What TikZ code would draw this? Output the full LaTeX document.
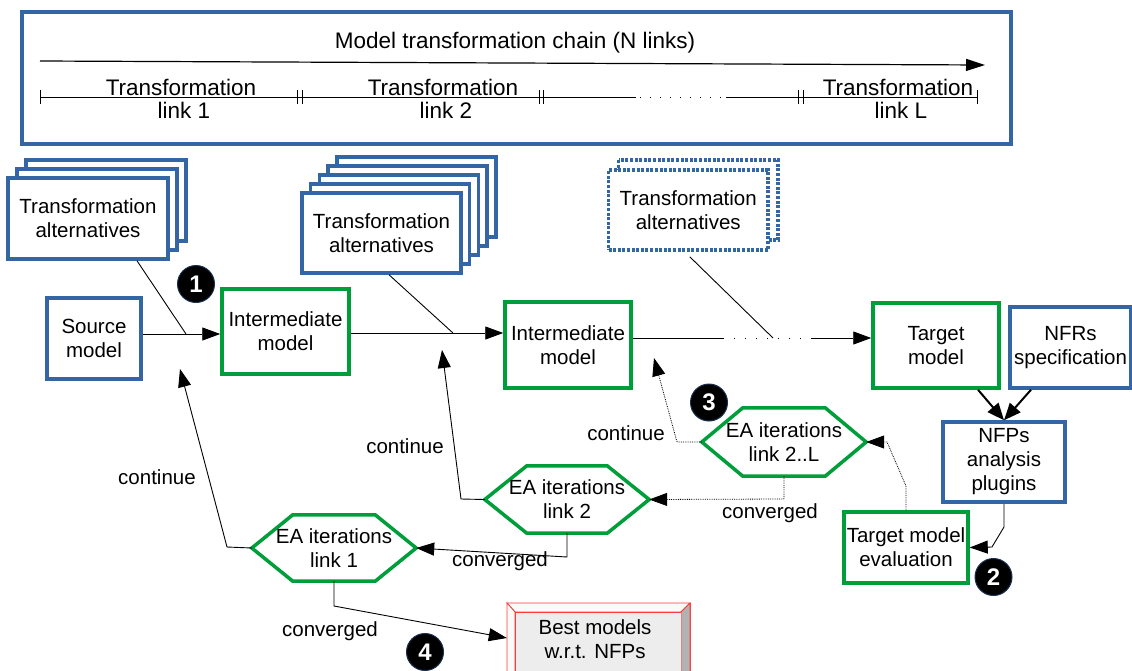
\documentclass[tikz,border=0pt]{standalone}
\usepackage{fontspec}
\setmainfont{Liberation Sans}
\usetikzlibrary{arrows.meta,calc,backgrounds}
\definecolor{myblue}{RGB}{52,101,164}
\definecolor{mygreen}{RGB}{0,158,58}
\definecolor{myred}{RGB}{255,60,60}
\newcommand\hexdraw[2]{\draw[hexline] (#1.west) -- ([xshift=#2]#1.north west) -- ([xshift=-#2]#1.north east) -- (#1.east) -- ([xshift=-#2]#1.south east) -- ([xshift=#2]#1.south west) -- cycle;}
\begin{document}
\begin{tikzpicture}[x=1pt,y=-1pt,font=\fontsize{20.5}{24}\selectfont,
  bluebox/.style={draw=myblue,line width=3.5,fill=white,align=center,inner sep=0},
  greenbox/.style={draw=mygreen,line width=3.5,fill=white,align=center,inner sep=0},
  backbox/.style={draw=myblue,line width=3.5,fill=white},
  dotbox/.style={draw=myblue,line width=3.5,fill=white,dash pattern=on 3pt off 1.6pt},
  hexnode/.style={align=center,inner sep=0},
  hexline/.style={draw=mygreen,line width=3.5,line join=miter},
  conn/.style={line width=0.9},
  arr/.style={conn,-{Triangle[length=18pt,width=13pt]}},
  dconn/.style={line width=0.8,densely dotted},
  darr/.style={dconn,-{Triangle[length=18pt,width=13pt]}},
  thickarr/.style={line width=2,-{Triangle[length=17pt,width=14pt]}},
  num/.style={circle,fill=black,draw=myblue!50!black,line width=1,minimum size=37,inner sep=0,text=white,font=\fontsize{24}{24}\selectfont\bfseries},
  lbl/.style={inner sep=0},
  toplbl/.style={inner sep=0,anchor=base,font=\fontsize{22.5}{25}\selectfont}]
\useasboundingbox (0,0) rectangle (1132,670);

% top chain box
\node[draw=myblue,line width=4,minimum width=989,minimum height=132,inner sep=0] (chain) at (516.5,78) {};
\node[lbl,font=\fontsize{22.5}{25}\selectfont] (title) at (515,43) {Model transformation chain (N links)};
\coordinate (ca) at (40,61);
\coordinate (cb) at (985,65);
\draw[line width=1.2,-{Triangle[length=19pt,width=12pt]}] (ca) -- (cb);
\draw[line width=1] (40,97) -- (636,97);
\draw[line width=1,dash pattern=on 1pt off 9pt] (640,97) -- (722,97);
\draw[line width=1] (726,97) -- (977,97);
\foreach \t in {40,297.5,302,539,543,798.5,803,977} \draw[line width=1] (\t,90) -- (\t,104);
\node[toplbl] (l1a) at (181,95) {Transformation};
\node[toplbl] (l1b) at (184,118) {link 1};
\node[toplbl] (l2a) at (443,95) {Transformation};
\node[toplbl] (l2b) at (446,118) {link 2};
\node[toplbl] (lLa) at (898,95) {Transformation};
\node[toplbl] (lLb) at (901,118) {link L};

% stack 1
\foreach \k in {2,1} \draw[backbox] (8+9*\k,178-9*\k) rectangle (168+9*\k,259-9*\k);
\node[bluebox,minimum width=160,minimum height=81] (ta1) at (88,218.5) {Transformation\\alternatives};
% stack 2
\foreach \k in {4,3,2,1} \draw[backbox] (302+8.7*\k,193-9*\k) rectangle (461+8.7*\k,273-9*\k);
\node[bluebox,minimum width=159,minimum height=80] (ta2) at (381.5,233) {Transformation\\alternatives};
% stack 3
\draw[dotbox] (618.5,160) rectangle (778,240);
\node[dotbox,align=center,inner sep=0,minimum width=159.5,minimum height=80] (ta3) at (688.25,210) {Transformation\\alternatives};

% main boxes
\node[bluebox,minimum width=94,minimum height=81] (src) at (94,338.5) {Source\\model};
\node[greenbox,minimum width=127,minimum height=85] (int1) at (285.5,331.5) {Intermediate\\model};
\node[greenbox,minimum width=126,minimum height=86] (int2) at (568,345) {Intermediate\\model};
\node[greenbox,minimum width=126,minimum height=85] (tgt) at (936,345.5) {Target\\model};
\node[bluebox,minimum width=121,minimum height=81] (nfr) at (1070.5,347.5) {NFRs\\specification};
\node[bluebox,minimum width=122,minimum height=80] (nfp) at (1004,462) {NFPs\\analysis\\plugins};
\node[greenbox,minimum width=124,minimum height=71] (tme) at (906,547.5) {Target model\\evaluation};

% hexagons
\node[hexnode,minimum width=164,minimum height=66] (h1) at (334,548) {EA iterations\\link 1};
\node[hexnode,minimum width=164,minimum height=67] (h2) at (567,499.5) {EA iterations\\link 2};
\node[hexnode,minimum width=164,minimum height=68] (h3) at (784,442) {EA iterations\\link 2..L};
\begin{scope}[on background layer]
\fill[white] (0,0) rectangle (1132,670);
\hexdraw{h1}{41}
\hexdraw{h2}{42}
\hexdraw{h3}{41}
\end{scope}

% best models bevel box
\node[minimum width=183,minimum height=79,inner sep=0] (best) at (598.5,642.5) {};
\fill[gray!12,draw=myred,line width=0.8] (507,603) rectangle (690,682);
\fill[gray!4,draw=myred,line width=0.8] (507,603) -- (690,603) -- (681,612) -- (515,612) -- cycle;
\fill[gray!4,draw=myred,line width=0.8] (507,603) -- (515,612) -- (515,673) -- (507,682) -- cycle;
\fill[gray!60,draw=myred,line width=0.8] (690,603) -- (690,682) -- (681,673) -- (681,612) -- cycle;
\fill[gray!60,draw=myred,line width=0.8] (507,682) -- (690,682) -- (681,673) -- (515,673) -- cycle;
\fill[gray!14] (515,612) rectangle (681,673);
\draw[myred,line width=0.8] (515,673) -- (515,612) -- (681,612);
\node[lbl,align=center] (bestt) at (595,639) {Best models\\w.r.t. NFPs};

% forward chain connectors
\coordinate (j1) at (186,334);
\coordinate (j2) at (453,333);
\coordinate (j3) at (773,338);
\coordinate (d3a) at (723,338);
\coordinate (d3b) at (812,338);
\draw[conn] ([xshift=49]ta1.south) -- (j1);
\draw[arr] (src.east |- j1) -- (int1.west |- j1);
\draw[conn] ([xshift=7.5]ta2.south) -- (j2);
\draw[arr] (int1.east |- j2) -- (int2.west |- j2);
\draw[conn] ([xshift=1.5,yshift=-5]ta3.south) -- (j3);
\draw[conn] (int2.east |- j3) -- (d3a);
\draw[line width=1,dash pattern=on 1pt off 10pt] (d3a) -- (d3b);
\draw[arr] (d3b) -- (tgt.west |- j3);

% NFP arrows
\draw[thickarr] ([xshift=42]tgt.south) -- (nfp.north);
\draw[thickarr] ([xshift=-39.5]nfr.south) -- (nfp.north);
\draw[arr] (nfp.south) -- (1004,527) -- (992,547) -- (tme.east);

% feedback connectors
\draw[darr] (tme.north) -- (906,486) -- (887,442) -- (h3.east);
\draw[darr] (h3.south) -- (784,499) -- (h2.east);
\draw[darr] (h3.west) -- (677,442) -- (654,358);
\draw[arr] (h2.west) -- (461,499) -- (442,350);
\draw[arr] (h2.south) -- (567,557) -- (h1.east);
\draw[arr] (h1.west) -- (227,547) -- (180,369);
\draw[arr] (h1.south) -- (334,606) -- ([yshift=4.5]best.west);

% labels
\node[lbl] (c1t) at (626,433) {continue};
\node[lbl] (c2t) at (405,446) {continue};
\node[lbl] (c3t) at (157,477) {continue};
\node[lbl] (v1t) at (770,513) {converged};
\node[lbl] (v2t) at (500,561) {converged};
\node[lbl] (v3t) at (330,631) {converged};

% numbers
\node[num] (n1) at (196,284) {1};
\node[num] (n2) at (993.5,577) {2};
\node[num] (n3) at (709,402.5) {3};
\node[num] (n4) at (425,652) {4};
\end{tikzpicture}
\end{document}
